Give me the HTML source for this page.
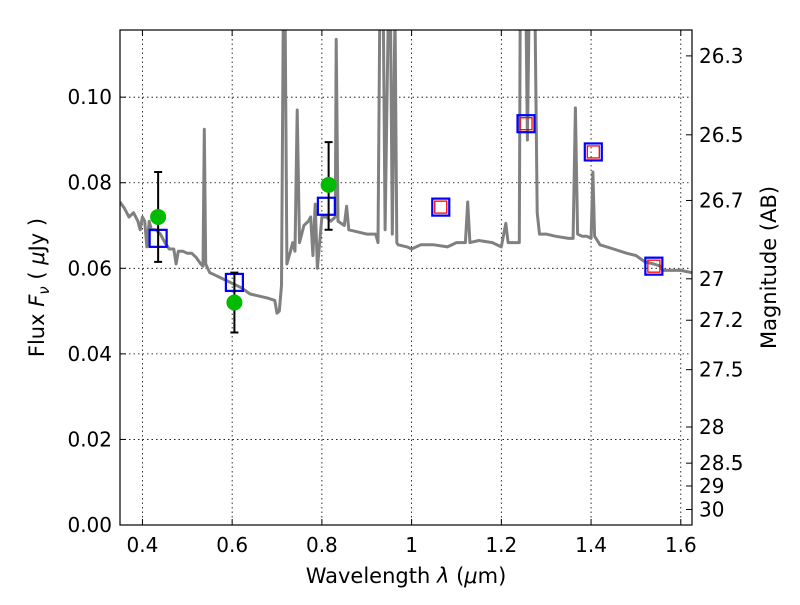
<!DOCTYPE html>
<html><head><meta charset="utf-8"><style>
body{margin:0;background:#fff}
svg text{font-family:"DejaVu Sans","Liberation Sans",sans-serif;fill:#000}
</style></head><body>
<svg id="chart" width="800" height="600" xmlns="http://www.w3.org/2000/svg">
<g id="grid"></g>
<g id="spec"></g>
<g id="pts"></g>
<g id="axes"></g>
</svg>
<script>
const specWave=[0.35,0.36,0.37,0.38,0.39,0.395,0.40,0.405,0.41,0.415,0.42,0.43,0.44,0.45,0.46,0.47,0.475,0.48,0.49,0.50,0.51,0.52,0.53,0.535,0.538,0.541,0.55,0.56,0.58,0.60,0.62,0.64,0.66,0.68,0.695,0.70,0.705,0.71,0.714,0.718,0.722,0.73,0.735,0.74,0.745,0.75,0.76,0.77,0.775,0.78,0.785,0.79,0.80,0.81,0.82,0.83,0.832,0.836,0.85,0.855,0.86,0.88,0.90,0.92,0.925,0.929,0.937,0.941,0.948,0.953,0.957,0.963,0.967,0.97,0.99,1.0,1.02,1.05,1.08,1.10,1.12,1.125,1.13,1.15,1.18,1.20,1.21,1.215,1.24,1.242,1.255,1.258,1.262,1.275,1.28,1.285,1.30,1.32,1.35,1.36,1.365,1.37,1.38,1.39,1.40,1.404,1.408,1.42,1.45,1.48,1.50,1.52,1.54,1.555,1.56,1.58,1.60,1.625];
const specFlux=[0.0755,0.074,0.072,0.073,0.071,0.069,0.072,0.071,0.065,0.071,0.069,0.069,0.068,0.066,0.0645,0.0645,0.061,0.064,0.064,0.0635,0.0635,0.0625,0.061,0.0605,0.0925,0.061,0.059,0.0585,0.0575,0.0565,0.0555,0.054,0.0535,0.053,0.0525,0.0495,0.050,0.056,0.12,0.12,0.061,0.064,0.066,0.064,0.097,0.066,0.070,0.071,0.072,0.063,0.075,0.060,0.072,0.072,0.071,0.072,0.1135,0.071,0.070,0.0745,0.069,0.0685,0.068,0.068,0.066,0.12,0.12,0.069,0.12,0.12,0.068,0.12,0.066,0.0655,0.065,0.0645,0.0655,0.0655,0.065,0.066,0.066,0.0755,0.066,0.0665,0.066,0.065,0.0705,0.066,0.066,0.12,0.12,0.09,0.12,0.12,0.073,0.068,0.068,0.0675,0.067,0.067,0.0975,0.068,0.0675,0.0675,0.067,0.0825,0.0675,0.0655,0.0645,0.0635,0.063,0.0615,0.061,0.0605,0.0595,0.0595,0.0595,0.059];
const obsWave=[0.435,0.605,0.815];
const obsFlux=[0.072,0.052,0.0795];
const obsLo=[0.0615,0.045,0.069];
const obsHi=[0.0825,0.059,0.0895];
const modWave=[0.435,0.605,0.81,1.065,1.255,1.405,1.54];
const modFlux=[0.067,0.0567,0.0745,0.0743,0.0938,0.0872,0.0605];
const redIdx=[3,4,5,6];
const xTicks=[0.4,0.6,0.8,1.0,1.2,1.4,1.6];
const xLabels=["0.4","0.6","0.8","1","1.2","1.4","1.6"];
const yTicks=[0,0.02,0.04,0.06,0.08,0.10];
const yLabels=["0.00","0.02","0.04","0.06","0.08","0.10"];
const magTicks=[26.3,26.5,26.7,27,27.2,27.5,28,28.5,29,30];

const L=120,R=692,T=30,B=525,X0=0.35,X1=1.625,Y0=0,Y1=0.1157;
const sx=v=>L+(v-X0)/(X1-X0)*(R-L);
const sy=v=>B-(v-Y0)/(Y1-Y0)*(B-T);
const NS="http://www.w3.org/2000/svg";
function mk(tag,parent,attrs){const e=document.createElementNS(NS,tag);for(const k in attrs)e.setAttribute(k,attrs[k]);parent.appendChild(e);return e;}
const grid=document.getElementById('grid'),spec=document.getElementById('spec'),pts=document.getElementById('pts'),axes=document.getElementById('axes');
xTicks.forEach((t,i)=>{const l=mk('line',grid,{x1:sx(t),x2:sx(t),y1:T,y2:B,stroke:'#000','stroke-dasharray':'1.5,3','stroke-width':0.8});

const tk=mk('line',axes,{x1:sx(t),x2:sx(t),y1:B,y2:B-6,stroke:'#000'});
const tk2=mk('line',axes,{x1:sx(t),x2:sx(t),y1:T,y2:T+6,stroke:'#000'});
const tx=mk('text',axes,{x:sx(t),y:B+27,'text-anchor':'middle','font-size':20});tx.textContent=xLabels[i];
});
yTicks.forEach((t,i)=>{if(t>0){const l=mk('line',grid,{x1:L,x2:R,y1:sy(t),y2:sy(t),stroke:'#000','stroke-dasharray':'1.5,3','stroke-width':0.8});
}
const tk=mk('line',axes,{x1:L,x2:L+6,y1:sy(t),y2:sy(t),stroke:'#000'});
const tx=mk('text',axes,{x:L-8,y:sy(t)+7,'text-anchor':'end','font-size':20});tx.textContent=yLabels[i];
});
magTicks.forEach(m=>{const f=Math.pow(10,(23.9-m)/2.5);const y=sy(f);
const tk=mk('line',axes,{x1:R,x2:R-6,y1:y,y2:y,stroke:'#000'});
const tx=mk('text',axes,{x:R+7,y:y+7,'font-size':20});tx.textContent=String(m);
});
const cp=mk('clipPath',document.getElementById('chart'),{id:'clip'});mk('rect',cp,{x:L,y:T,width:R-L,height:B-T});
spec.setAttribute('clip-path','url(#clip)');
const d=specWave.map((w,i)=>(i?'L':'M')+sx(w).toFixed(1)+','+sy(specFlux[i]).toFixed(1)).join('');
const sp=mk('path',spec,{d:d,fill:'none',stroke:'#808080','stroke-width':3,'stroke-linejoin':'round'});

modWave.forEach((w,i)=>{const r=mk('rect',pts,{x:sx(w)-8.5,y:sy(modFlux[i])-8.5,width:17,height:17,fill:'none',stroke:'#0000ff','stroke-width':2.2});
});
redIdx.forEach(i=>{const r=mk('rect',pts,{x:sx(modWave[i])-6,y:sy(modFlux[i])-6,width:12,height:12,fill:'none',stroke:'#ff0000','stroke-width':1.3});
});
obsWave.forEach((w,i)=>{const x=sx(w);
const e=mk('path',pts,{d:`M${x},${sy(obsLo[i])}V${sy(obsHi[i])}M${x-4},${sy(obsLo[i])}h8M${x-4},${sy(obsHi[i])}h8`,stroke:'#000','stroke-width':2,fill:'none'});

const c=mk('circle',pts,{cx:x,cy:sy(obsFlux[i]),r:8,fill:'#00bb00'});
});
const fr=mk('rect',axes,{x:L,y:T,width:R-L,height:B-T,fill:'none',stroke:'#000','stroke-width':1.2});

const xl=mk('text',axes,{x:406,y:583,'text-anchor':'middle','font-size':21});xl.innerHTML='Wavelength  <tspan font-style="italic">λ</tspan> (<tspan font-style="italic">μ</tspan>m)';

const yl=mk('text',axes,{x:0,y:0,'text-anchor':'middle','font-size':21,transform:`translate(44,${(T+B)/2+10}) rotate(-90)`});
yl.innerHTML='Flux  <tspan font-style="italic">F</tspan><tspan font-style="italic" font-size="15" dy="5">ν</tspan><tspan dy="-5">  ( </tspan><tspan font-style="italic">μ</tspan>Jy )';

const ml=mk('text',axes,{x:0,y:0,'text-anchor':'middle','font-size':21,transform:`translate(776,${(T+B)/2-10}) rotate(-90)`});ml.textContent='Magnitude (AB)';

</script>
</body></html>
